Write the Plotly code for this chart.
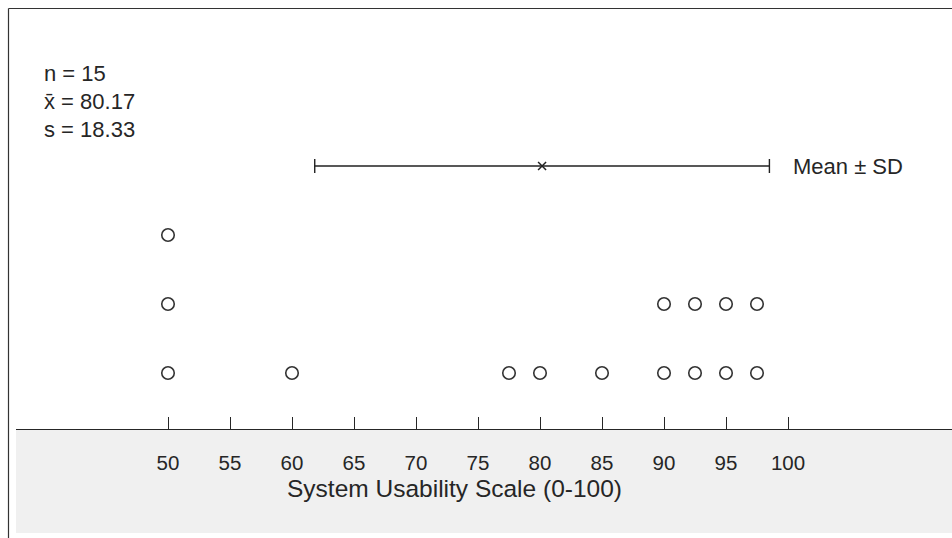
import numpy as np
import plotly.graph_objects as go

# ---- data ----
scores = [50, 50, 50, 60, 77.5, 80, 85, 90, 90, 92.5, 92.5, 95, 95, 97.5, 97.5]
tick_vals = [50, 55, 60, 65, 70, 75, 80, 85, 90, 95, 100]
tick_text = ["50", "55", "60", "65", "70", "75", "80", "85", "90", "95", "100"]
x_title = "System Usability Scale (0-100)"
errbar_label = "Mean ± SD"

# ---- derived statistics ----
n = len(scores)
mean = float(np.mean(scores))
sd = float(np.std(scores, ddof=1))
stats_lines = [f"n = {n}", f"x̄ = {mean:.2f}", f"s = {sd:.2f}"]

# dot-plot stacking level for each score
levels = []
seen = {}
for s in scores:
    seen[s] = seen.get(s, 0) + 1
    levels.append(seen[s])
mean_level = max(levels) + 1

# ---- geometry (pixels) ----
W, H = 952, 538
PL, PR = 16, 952          # plot area left/right (px)
PT, PB = 0, 429           # plot area top/bottom (px) -> axis line at 429
X50_PX, PX_PER_UNIT = 168.0, 12.4
LEVEL0_PX, PX_PER_LEVEL = 442.0, 69.0

x_lo = 50 + (PL - X50_PX) / PX_PER_UNIT
x_hi = 50 + (PR - X50_PX) / PX_PER_UNIT
y_lo = (LEVEL0_PX - PB) / PX_PER_LEVEL
y_hi = (LEVEL0_PX - PT) / PX_PER_LEVEL


def px_x(p):
    return (p - PL) / (PR - PL)


def px_y(p):
    return (PB - p) / (PB - PT)


FONT = "Liberation Sans, Arial, Helvetica, sans-serif"
TXT = "#262626"

fig = go.Figure()

fig.add_trace(go.Scatter(
    x=scores, y=levels, mode="markers",
    marker=dict(symbol="circle", size=12.5, color="white",
                line=dict(color="#333333", width=1.6)),
    hoverinfo="x", showlegend=False,
))

fig.add_trace(go.Scatter(
    x=[mean], y=[mean_level], mode="markers",
    marker=dict(symbol="x-thin", size=8, color="#222222",
                line=dict(color="#222222", width=1.5)),
    error_x=dict(type="data", array=[sd], symmetric=True,
                 color="#222222", thickness=1.4, width=7),
    hoverinfo="x", showlegend=False,
))

shapes = [
    # grey band below the axis
    dict(type="rect", xref="paper", yref="paper",
         x0=px_x(16), x1=px_x(952), y0=px_y(533), y1=px_y(429),
         fillcolor="#f0f0f0", line=dict(width=0), layer="below"),
    # frame lines (left and top)
    dict(type="line", xref="paper", yref="paper",
         x0=px_x(8.5), x1=px_x(8.5), y0=px_y(8.5), y1=px_y(540),
         line=dict(color="#333333", width=1.2)),
    dict(type="line", xref="paper", yref="paper",
         x0=px_x(8.5), x1=px_x(955), y0=px_y(8.5), y1=px_y(8.5),
         line=dict(color="#333333", width=1.2)),
]

annotations = []
for i, line in enumerate(stats_lines):
    annotations.append(dict(
        text=line, xref="paper", yref="paper",
        x=px_x(42), y=px_y(73 + 28 * i), xanchor="left", yanchor="middle",
        showarrow=False, font=dict(family=FONT, size=22, color=TXT)))

annotations.append(dict(
    text=errbar_label, xref="paper", yref="y",
    x=px_x(791), y=mean_level, xanchor="left", yanchor="middle",
    showarrow=False, font=dict(family=FONT, size=22, color=TXT)))

annotations.append(dict(
    text=x_title, xref="paper", yref="paper",
    x=px_x(454), y=px_y(489), xanchor="center", yanchor="middle",
    showarrow=False, font=dict(family=FONT, size=24.5, color=TXT)))

fig.update_layout(
    width=W, height=H,
    margin=dict(l=PL, r=W - PR, t=PT, b=H - PB, pad=0),
    paper_bgcolor="white", plot_bgcolor="rgba(0,0,0,0)",
    shapes=shapes, annotations=annotations,
    xaxis=dict(range=[x_lo, x_hi], tickvals=tick_vals, ticktext=tick_text,
               showgrid=False, zeroline=False,
               showline=True, linecolor=TXT, linewidth=1.3,
               ticks="inside", ticklen=12, tickwidth=1.3, tickcolor=TXT,
               ticklabelstandoff=15,
               tickfont=dict(family=FONT, size=20.5, color=TXT)),
    yaxis=dict(range=[y_lo, y_hi], visible=False, showgrid=False,
               zeroline=False),
    font=dict(family=FONT, color=TXT),
)

fig.write_html("out.html")
